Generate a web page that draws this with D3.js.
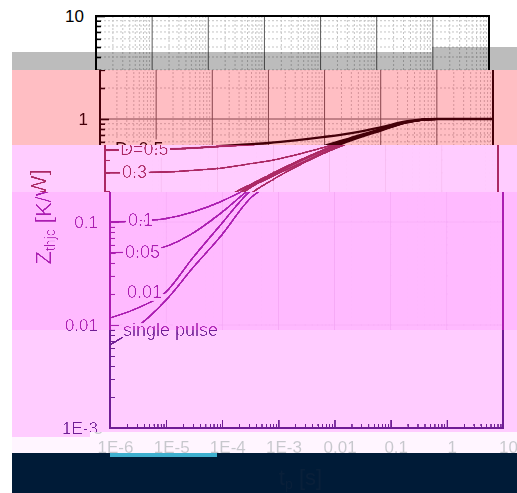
<!DOCTYPE html>
<html>
<head>
<meta charset="utf-8">
<script src="https://cdn.jsdelivr.net/npm/d3@7"></script>
<style>
  body { margin: 0; background: #fff; }
  svg { display: block; font-family: "Liberation Sans", Arial, sans-serif; }
</style>
</head>
<body>
<div id="chart"></div>
<script>
// pulse duration t_p [s]
const times = [1e-6, 3e-6, 1e-5, 3e-5, 1e-4, 3e-4, 1e-3, 3e-3, 1e-2, 3e-2, 0.1, 0.3, 1, 3, 10];

// Zthjc [K/W] for each duty cycle
const zD05   = [0.50, 0.50, 0.51, 0.52, 0.54, 0.56, 0.585, 0.62, 0.67, 0.73, 0.83, 0.95, 1.0, 1.0, 1.0];
const zD03   = [0.30, 0.30, 0.305, 0.315, 0.33, 0.36, 0.40, 0.46, 0.55, 0.66, 0.80, 0.94, 1.0, 1.0, 1.0];
const zD01   = [0.10, 0.102, 0.108, 0.125, 0.16, 0.215, 0.30, 0.40, 0.53, 0.65, 0.79, 0.94, 1.0, 1.0, 1.0];
const zD005  = [0.05, 0.052, 0.058, 0.078, 0.125, 0.205, 0.29, 0.39, 0.52, 0.64, 0.78, 0.93, 1.0, 1.0, 1.0];
const zD001  = [0.0117, 0.0145, 0.021, 0.045, 0.098, 0.195, 0.28, 0.37, 0.50, 0.63, 0.78, 0.93, 1.0, 1.0, 1.0];
const zSingle = [0.0064, 0.0095, 0.0175, 0.036, 0.076, 0.165, 0.26, 0.36, 0.49, 0.62, 0.77, 0.93, 1.0, 1.0, 1.0];

const curveNames = ["D=0.5", "0.3", "0.1", "0.05", "0.01", "single pulse"];

const yTicks = [1e-3, 0.01, 0.1, 1, 10];
const yTickLabels = ["1E-3", "0.01", "0.1", "1", "10"];
const xTicks = [1e-6, 1e-5, 1e-4, 1e-3, 0.01, 0.1, 1, 10];
const xTickLabels = ["1E-6", "1E-5", "1E-4", "1E-3", "0.01", "0.1", "1", "10"];

const W = 517, H = 493;

const svg = d3.select("#chart").append("svg")
    .attr("width", W)
    .attr("height", H);

const defs = svg.append("defs");
const base = defs.append("g").attr("id", "base");

const x = d3.scaleLog().domain([1e-6, 10]).range([96, 489]);
const y = d3.scaleLog().domain([1e-3, 10]).range([428, 16]);

base.append("rect")
    .attr("x", -600).attr("y", 0)
    .attr("width", 1800).attr("height", H)
    .attr("fill", "#fff");

const isMajor = v => Math.abs(Math.log10(v) - Math.round(Math.log10(v))) < 1e-6;
const xMinor = x.ticks().filter(v => !isMajor(v));
const yMinor = y.ticks().filter(v => !isMajor(v));

// grid
const grid = base.append("g");
grid.selectAll(".vminor").data(xMinor).enter().append("line")
    .attr("x1", d => x(d)).attr("x2", d => x(d))
    .attr("y1", y.range()[1]).attr("y2", y.range()[0])
    .attr("stroke", "#c4c4c4").attr("stroke-dasharray", "2,2");
grid.selectAll(".hminor").data(yMinor).enter().append("line")
    .attr("y1", d => y(d)).attr("y2", d => y(d))
    .attr("x1", x.range()[0]).attr("x2", x.range()[1])
    .attr("stroke", "#c4c4c4").attr("stroke-dasharray", "2,2");
grid.selectAll(".vmajor").data(xTicks).enter().append("line")
    .attr("x1", d => x(d)).attr("x2", d => x(d))
    .attr("y1", y.range()[1]).attr("y2", y.range()[0])
    .attr("stroke", "#5a5a5a");
grid.selectAll(".hmajor").data(yTicks).enter().append("line")
    .attr("y1", d => y(d)).attr("y2", d => y(d))
    .attr("x1", x.range()[0]).attr("x2", x.range()[1])
    .attr("stroke", "#5a5a5a");

// axes: ticks point inwards
const bottomY = y.range()[0];
const leftX = x.range()[0];

const xMinorAxis = base.append("g")
    .attr("transform", "translate(0," + bottomY + ")")
    .call(d3.axisBottom(x).tickValues(xMinor).tickSizeInner(-4).tickSizeOuter(0).tickFormat(""));
const xMajorAxis = base.append("g")
    .attr("transform", "translate(0," + bottomY + ")")
    .call(d3.axisBottom(x).tickValues(xTicks).tickSizeInner(-8).tickSizeOuter(0)
        .tickPadding(13).tickFormat((d, i) => xTickLabels[i]));

const yMinorAxis = base.append("g")
    .attr("transform", "translate(" + leftX + ",0)")
    .call(d3.axisLeft(y).tickValues(yMinor).tickSizeInner(-5).tickSizeOuter(0).tickFormat(""));
const yMajorAxis = base.append("g")
    .attr("transform", "translate(" + leftX + ",0)")
    .call(d3.axisLeft(y).tickValues(yTicks).tickSizeInner(-9).tickSizeOuter(0)
        .tickPadding(12).tickFormat((d, i) => yTickLabels[i]));

[xMinorAxis, xMajorAxis, yMinorAxis, yMajorAxis].forEach(g => {
    g.select(".domain").remove();
    g.selectAll("line").attr("stroke", "#000").attr("stroke-width", 1.6);
    g.selectAll("text").attr("font-size", 17).attr("fill", "#000")
        .attr("font-family", "Liberation Sans, Arial, sans-serif");
});

// frame
base.append("rect")
    .attr("x", x.range()[0]).attr("y", y.range()[1])
    .attr("width", x.range()[1] - x.range()[0])
    .attr("height", y.range()[0] - y.range()[1])
    .attr("fill", "none").attr("stroke", "#000").attr("stroke-width", 2);

// curves
const series = [zD05, zD03, zD01, zD005, zD001, zSingle];
const line = d3.line()
    .x((d, i) => x(times[i]))
    .y(d => y(d))
    .curve(d3.curveMonotoneX);

base.append("g").selectAll("path").data(series).enter().append("path")
    .attr("d", d => line(d))
    .attr("fill", "none")
    .attr("stroke", "#000")
    .attr("stroke-width", (d, i) => i === 0 ? 2.4 : 2);

// inline labels sitting on the curves (halo hides the line behind)
const labelDx = [15, 17, 18, 15, 17, 13];
const labelDy = [5, 5.5, 4, 5, -20, -9];
base.append("g").selectAll("text").data(curveNames).enter().append("text")
    .attr("x", (d, i) => leftX + labelDx[i])
    .attr("y", (d, i) => y(series[i][0]) + labelDy[i])
    .attr("font-size", 18)
    .attr("fill", "#000")
    .attr("stroke", "#fff").attr("stroke-width", 5)
    .attr("paint-order", "stroke")
    .text(d => d);

// axis titles
const yTitle = base.append("text")
    .attr("transform", "translate(37,217) rotate(-90)")
    .attr("text-anchor", "middle")
    .attr("font-size", 22)
    .attr("fill", "#000");
yTitle.append("tspan").text("Z");
yTitle.append("tspan").attr("font-size", 14).attr("dy", 4).text("thjc");
yTitle.append("tspan").attr("dy", -4).text(" [K/W]");

const xTitle = base.append("text")
    .attr("x", (x.range()[0] + x.range()[1]) / 2)
    .attr("y", 485)
    .attr("text-anchor", "middle")
    .attr("font-size", 22)
    .attr("fill", "#000");
xTitle.append("tspan").text("t");
xTitle.append("tspan").attr("font-size", 14).attr("dy", 4).text("p");
xTitle.append("tspan").attr("dy", -4).text(" [s]");

// the picture is cut into horizontal strips, each shifted and tinted.
// grey level (0 black .. 1 white) is remapped through knots, then black -> black colour, white -> white colour
const linearKnots = [[0, 1], [0, 1]];
const fadeKnots = [[0, 0.3, 0.34, 0.8, 1], [0, 0.28, 0.88, 1, 1]];
const washKnots = [[0, 0.3, 0.34, 1], [0, 0.3, 1, 1]];

const bands = [
    { rects: [[0, 0, 432, 52], [432, 0, 85, 47]], dx: 0, white: null },
    { rects: [[12, 52, 420, 18], [432, 47, 85, 23]], dx: 0, white: [188, 188, 188], black: [0, 0, 0], knots: linearKnots },
    { rects: [[12, 70, 505, 75]], dx: 4, white: [255, 191, 196], black: [70, 0, 10], knots: linearKnots },
    { rects: [[12, 145, 505, 47]], dx: 9, white: [255, 204, 255], black: [172, 40, 100], knots: fadeKnots },
    { rects: [[12, 192, 505, 138]], dx: 14, white: [255, 187, 255], black: [172, 30, 178], knots: fadeKnots },
    { rects: [[12, 330, 505, 102], [12, 432, 78, 5]], dx: 14, white: [255, 204, 255], black: [112, 30, 150], knots: washKnots },
    { rects: [[90, 432, 427, 21], [12, 437, 78, 16]], dx: 19, white: [255, 246, 255], black: [200, 200, 206], knots: linearKnots },
    { rects: [[12, 453, 505, 40]], dx: 8, white: [0, 27, 55], black: [10, 32, 58], knots: linearKnots }
];

bands.forEach((b, i) => {
    const clip = defs.append("clipPath").attr("id", "clip" + i);
    b.rects.forEach(r => clip.append("rect")
        .attr("x", r[0]).attr("y", r[1]).attr("width", r[2]).attr("height", r[3]));

    let holder = svg.append("g").attr("clip-path", "url(#clip" + i + ")");
    if (b.white) {
        const remap = d3.scaleLinear().domain(b.knots[0]).range(b.knots[1]).clamp(true);
        const f = defs.append("filter").attr("id", "tint" + i)
            .attr("filterUnits", "userSpaceOnUse")
            .attr("x", -100).attr("y", 0).attr("width", 800).attr("height", H)
            .attr("color-interpolation-filters", "sRGB");
        const ct = f.append("feComponentTransfer");
        ["feFuncR", "feFuncG", "feFuncB"].forEach((fn, c) => {
            const vals = d3.range(0, 101).map(k => {
                const t = remap(k / 100);
                return ((b.black[c] + (b.white[c] - b.black[c]) * t) / 255).toFixed(4);
            });
            ct.append(fn).attr("type", "table").attr("tableValues", vals.join(" "));
        });
        holder = holder.append("g").attr("filter", "url(#tint" + i + ")");
    }
    holder.append("use")
        .attr("href", "#base")
        .attr("transform", "translate(" + b.dx + ",0)");
});

// cyan glitch strip
svg.append("rect")
    .attr("x", 110).attr("y", 453)
    .attr("width", 107).attr("height", 4)
    .attr("fill", "#3fb0cf");
</script>
</body>
</html>
